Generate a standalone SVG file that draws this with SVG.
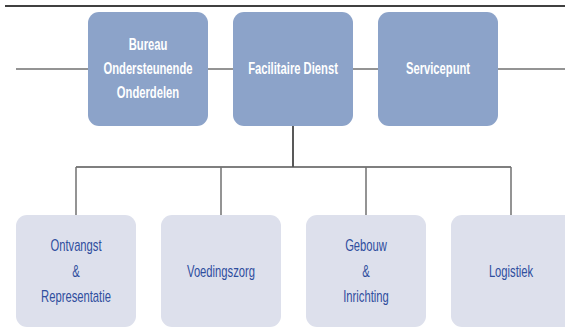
<svg xmlns="http://www.w3.org/2000/svg" width="565" height="330" viewBox="0 0 565 330">
<style>
.top rect{fill:#8CA3C9;}
.bot rect{fill:#DDE0EC;}
.top text{font-family:"Liberation Sans",Arial,sans-serif;font-size:17px;font-weight:bold;fill:#FFFFFF;text-anchor:middle;}
.bot text{font-family:"Liberation Sans",Arial,sans-serif;font-size:17px;fill:#2F4E9E;text-anchor:middle;}
.ln{stroke:#707070;stroke-width:1.5;fill:none;}
</style>
<rect x="0" y="0" width="565" height="330" fill="#FFFFFF"/>
<line x1="5" y1="6" x2="565" y2="6" stroke="#000000" stroke-width="1.5"/>
<g id="connectors">
<line class="ln" x1="16" y1="69" x2="565" y2="69"/>
<line class="ln" x1="293" y1="125" x2="293" y2="167" style="stroke:#222"/>
<line class="ln" x1="76" y1="167" x2="511" y2="167" style="stroke:#555"/>
<line class="ln" x1="76" y1="167" x2="76" y2="215"/>
<line class="ln" x1="221" y1="167" x2="221" y2="215"/>
<line class="ln" x1="366" y1="167" x2="366" y2="215"/>
<line class="ln" x1="511" y1="167" x2="511" y2="215"/>
</g>
<g id="bureau" class="top">
<rect x="88" y="12" width="120" height="114" rx="11"/>
<g transform="translate(148,0) scale(0.66,1)">
<text x="0" y="50">Bureau</text>
<text x="0" y="74">Ondersteunende</text>
<text x="0" y="98">Onderdelen</text>
</g>
</g>
<g id="facilitaire" class="top">
<rect x="233" y="12" width="120" height="114" rx="11"/>
<g transform="translate(293,0) scale(0.66,1)">
<text x="0" y="74">Facilitaire Dienst</text>
</g>
</g>
<g id="servicepunt" class="top">
<rect x="378" y="12" width="120" height="114" rx="11"/>
<g transform="translate(438,0) scale(0.66,1)">
<text x="0" y="74">Servicepunt</text>
</g>
</g>
<g id="ontvangst" class="bot">
<rect x="16" y="215" width="120" height="112" rx="11"/>
<g transform="translate(76,0) scale(0.66,1)">
<text x="0" y="251">Ontvangst</text>
<text x="0" y="277">&amp;</text>
<text x="0" y="302">Representatie</text>
</g>
</g>
<g id="voedingszorg" class="bot">
<rect x="161" y="215" width="120" height="112" rx="11"/>
<g transform="translate(221,0) scale(0.66,1)">
<text x="0" y="277">Voedingszorg</text>
</g>
</g>
<g id="gebouw" class="bot">
<rect x="306" y="215" width="120" height="112" rx="11"/>
<g transform="translate(366,0) scale(0.66,1)">
<text x="0" y="251">Gebouw</text>
<text x="0" y="277">&amp;</text>
<text x="0" y="302">Inrichting</text>
</g>
</g>
<g id="logistiek" class="bot">
<rect x="451" y="215" width="125" height="112" rx="11"/>
<g transform="translate(511,0) scale(0.66,1)">
<text x="0" y="277">Logistiek</text>
</g>
</g>
</svg>
